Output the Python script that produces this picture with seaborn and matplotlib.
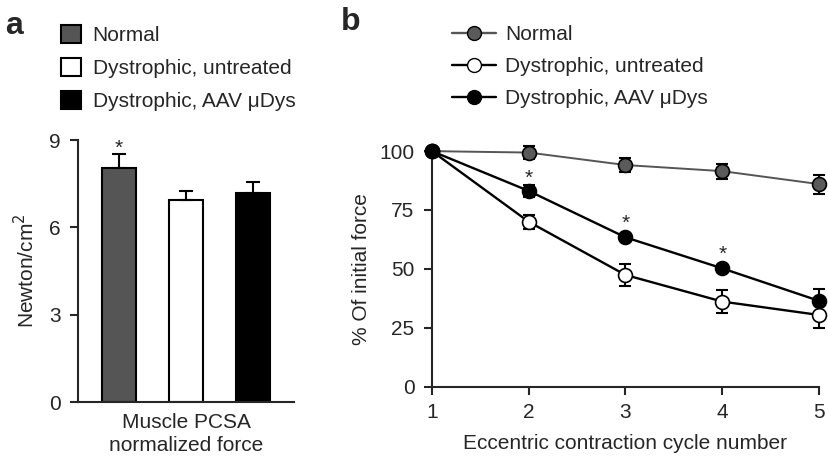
import numpy as np
import pandas as pd
import matplotlib
matplotlib.use('Agg')
import matplotlib.pyplot as plt
from matplotlib.patches import Patch
from matplotlib.lines import Line2D
import seaborn as sns

# Panel a data
groups = ['Normal', 'Dystrophic, untreated', 'Dystrophic, AAV \u03bcDys']
pcsa_force = [8.03, 6.94, 7.19]
pcsa_err = [0.50, 0.32, 0.38]

# Panel b data
cycles = [1, 2, 3, 4, 5]
normal_pct = [100, 99.4, 94.1, 91.5, 86.0]
normal_err = [1.5, 2.8, 2.8, 3.2, 4.0]
untreated_pct = [100, 70.0, 47.4, 36.1, 30.4]
untreated_err = [1.5, 3.0, 4.8, 5.0, 5.5]
aav_pct = [100, 83.1, 63.4, 50.2, 36.4]
aav_err = [1.0, 2.5, 1.0, 1.5, 5.0]
star_cycles = [2, 3, 4]
star_y = [88.5, 69.5, 56.0]

bar_colors = ['#555555', 'white', 'black']
line_colors = ['#555555', 'black', 'black']
face_colors = ['#5a5a5a', 'white', 'black']

FS = 15

sns.set_style('ticks')
plt.rcParams['font.family'] = ['Liberation Sans', 'DejaVu Sans']
plt.rcParams['axes.linewidth'] = 1.5

fig = plt.figure(figsize=(8.29, 4.58), dpi=100)

# ---- panel a ----
ax1 = fig.add_axes([0.094, 0.122, 0.261, 0.572])
bar_df = pd.DataFrame({'group': groups, 'force': pcsa_force})
sns.barplot(data=bar_df, x='group', y='force', hue='group', order=groups,
            hue_order=groups, palette=bar_colors, width=0.51,
            edgecolor='black', linewidth=1.5, legend=False, ax=ax1)
ax1.errorbar(range(3), pcsa_force, yerr=[np.zeros(3), pcsa_err], fmt='none',
             ecolor='black', elinewidth=1.5, capsize=5, capthick=1.5)
ax1.text(0, 8.72, '*', ha='center', va='center', fontsize=FS)
ax1.set_xlim(-0.614, 2.62)
ax1.set_ylim(0, 9)
ax1.set_yticks([0, 3, 6, 9])
ax1.set_xticks([])
ax1.set_xlabel('Muscle PCSA\nnormalized force', fontsize=FS, labelpad=8,
               linespacing=1.25)
ax1.set_ylabel('Newton/cm$^2$', fontsize=FS, labelpad=8)
ax1.tick_params(axis='y', labelsize=FS, length=6, width=1.5, pad=6.5)
sns.despine(ax=ax1)

handles_a = [Patch(facecolor=c, edgecolor='black', linewidth=1.5) for c in bar_colors]
fig.legend(handles_a, groups, loc='upper left', bbox_to_anchor=(0.074, 0.945),
           frameon=False, fontsize=FS, handlelength=0.95, handleheight=0.95,
           handletextpad=0.55, labelspacing=0.62, borderaxespad=0, borderpad=0)

# ---- panel b ----
ax2 = fig.add_axes([0.521, 0.156, 0.467, 0.514])
series = [normal_pct, untreated_pct, aav_pct]
errors = [normal_err, untreated_err, aav_err]
for vals, errs, lc, fc in zip(series, errors, line_colors, face_colors):
    ax2.errorbar(cycles, vals, yerr=errs, fmt='none', ecolor='black',
                 elinewidth=1.5, capsize=4, capthick=1.5, clip_on=False, zorder=2)
    sns.lineplot(x=cycles, y=vals, color=lc, linewidth=1.7 if lc == 'black' else 1.4,
                 marker='o', markersize=10, markerfacecolor=fc,
                 markeredgecolor='black', markeredgewidth=1.2,
                 clip_on=False, zorder=3, ax=ax2)
for xs, ys in zip(star_cycles, star_y):
    ax2.text(xs, ys, '*', ha='center', va='center', fontsize=FS)
ax2.set_xlim(1, 5)
ax2.set_ylim(0, 100)
ax2.set_xticks(cycles)
ax2.set_yticks([0, 25, 50, 75, 100])
ax2.set_xlabel('Eccentric contraction cycle number', fontsize=FS, labelpad=9)
ax2.set_ylabel('% Of initial force', fontsize=FS, labelpad=6)
ax2.tick_params(labelsize=FS, length=5.5, width=1.5, pad=7)
ax2.tick_params(axis='x', pad=6)
sns.despine(ax=ax2)

handles_b = [Line2D([0], [0], color=lc, linewidth=1.7, marker='o', markersize=10,
                    markerfacecolor=fc, markeredgecolor='black')
             for lc, fc in zip(line_colors, face_colors)]
fig.legend(handles_b, groups, loc='upper left', bbox_to_anchor=(0.545, 0.945),
           frameon=False, fontsize=FS, handlelength=2.1, handletextpad=0.45,
           labelspacing=0.62, borderaxespad=0, borderpad=0)

fig.text(0.006, 0.975, 'a', fontsize=23, fontweight='bold', va='top')
fig.text(0.411, 0.985, 'b', fontsize=23, fontweight='bold', va='top')

fig.savefig('out.png', dpi=100)
